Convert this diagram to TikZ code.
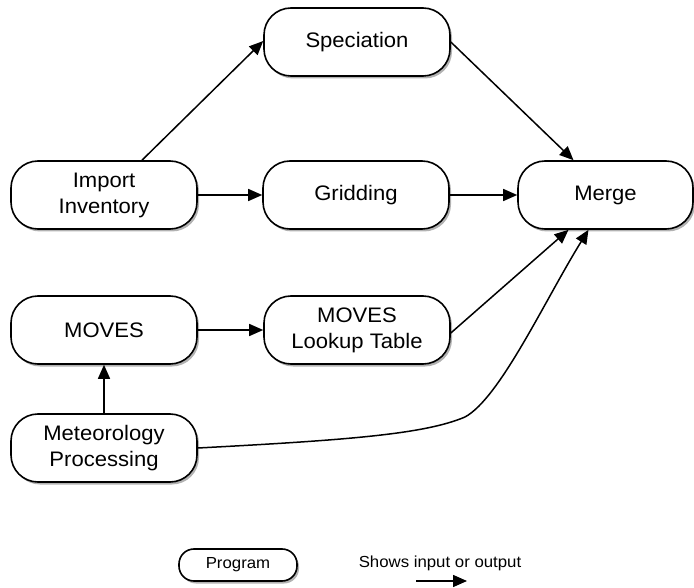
\documentclass[tikz,border=0pt]{standalone}
\usepackage{fontspec}
\setmainfont{Liberation Sans}[FakeStretch=1.05]
\usetikzlibrary{shadows,arrows.meta}
\begin{document}
\begin{tikzpicture}[x=1pt,y=-1pt,
  prog/.style={draw=black,line width=1.6pt,fill=white,rounded corners=27pt,
    minimum width=186pt,minimum height=68pt,align=center,inner sep=0pt,
    font=\fontsize{21}{26}\selectfont,
    drop shadow={shadow xshift=2pt,shadow yshift=-2.5pt,fill=black,opacity=0.3}},
  legprog/.style={prog,rounded corners=15pt,minimum width=118pt,minimum height=32pt,
    font=\fontsize{16}{18}\selectfont},
  flow/.style={line width=1.5pt,-{Triangle[length=14pt,width=12pt]}}]
\useasboundingbox (0,0) rectangle (694,588);
\node[prog] (spec) at (357,42) {Speciation};
\node[prog] (import) at (104,195) {Import\\Inventory};
\node[prog] (grid) at (356,195) {Gridding};
\node[prog,minimum width=175pt] (merge) at (605.5,195) {Merge};
\node[prog] (moves) at (104,330) {MOVES};
\node[prog] (lookup) at (357,330) {MOVES\\Lookup Table};
\node[prog] (met) at (104,448) {Meteorology\\Processing};
\node[legprog] (legend) at (238,565) {Program};
\node[font=\fontsize{16}{18}\selectfont] (legtext) at (440,563) {Shows input or output};
\coordinate (la) at (416,581);
\coordinate (lb) at (467,581);
\draw[flow] ([xshift=38pt]import.north) -- ([yshift=1pt]spec.west);
\draw[flow] (spec.east) -- ([xshift=-32pt]merge.north);
\draw[flow] (import.east) -- (grid.west);
\draw[flow] (grid.east) -- (merge.west);
\draw[flow] (moves.east) -- (lookup.west);
\draw[flow] (met.north) -- (moves.south);
\draw[flow] ([yshift=-3pt]lookup.east) -- ([xshift=-37pt]merge.south);
\coordinate (bend) at (465,417);
\draw[line width=1.5pt] (met.east) .. controls (350,440) and (425,434) .. (bend);
\draw[flow] (bend) .. controls (500,398) and (545,300) .. ([xshift=-17pt]merge.south);
\draw[flow] (la) -- (lb);
\end{tikzpicture}
\end{document}
